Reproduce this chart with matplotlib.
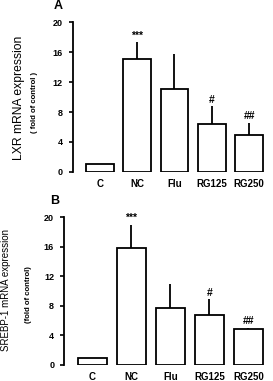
import matplotlib.pyplot as plt

groups = ['C', 'NC', 'Flu', 'RG125', 'RG250']

lxr_mean = [1.0, 15.1, 11.1, 6.4, 4.95]
lxr_err = [0.0, 2.3, 4.65, 2.4, 1.65]
lxr_marks = ['', '***', '', '#', '##']

srebp_mean = [1.0, 15.8, 7.75, 6.8, 4.86]
srebp_err = [0.0, 3.2, 3.15, 2.1, 0.2]
srebp_marks = ['', '***', '', '#', '##']

plt.rcParams['font.family'] = ['Liberation Sans', 'DejaVu Sans']

fig = plt.figure(figsize=(2.73, 3.81), dpi=100)


def panel(rect, means, errs, marks, letter, ylab1, ylab2, lab_pos, size1):
    ax = fig.add_axes(rect)
    x = list(range(len(groups)))
    ax.bar(x, means, width=0.75, color='white', edgecolor='black', linewidth=1.3, zorder=2)
    ax.errorbar(x, means, yerr=[[0] * len(errs), errs], fmt='none', ecolor='black',
                elinewidth=1.3, capsize=0, zorder=1)
    for xi, m, e, s in zip(x, means, errs, marks):
        if s:
            ax.text(xi, m + e + 0.2, s, ha='center', va='bottom', fontsize=7.5,
                    fontweight='bold', clip_on=False)
    ax.set_xlim(-0.73, 4.42)
    ax.set_ylim(0, 20)
    ax.set_yticks([0, 4, 8, 12, 16, 20])
    ax.set_xticks(x)
    ax.set_xticklabels(groups, fontsize=7, fontweight='bold')
    ax.tick_params(axis='x', length=0, pad=5)
    ax.tick_params(axis='y', length=3, width=1.2, labelsize=6.5, pad=4)
    for t in ax.get_yticklabels():
        t.set_fontweight('bold')
    for sp in ['top', 'right', 'bottom']:
        ax.spines[sp].set_visible(False)
    ax.spines['left'].set_linewidth(1.3)
    (lx, ly), (l1x, l1y), (l2x, l2y) = lab_pos
    fig.text(lx, ly, letter, fontsize=9, fontweight='bold', ha='center', va='center')
    fig.text(l1x, l1y, ylab1, fontsize=size1, rotation=90, ha='center', va='center')
    fig.text(l2x, l2y, ylab2, fontsize=5.6, fontweight='bold', rotation=90,
             ha='center', va='center')
    return ax


panel([0.266, 0.549, 0.704, 0.392], lxr_mean, lxr_err, lxr_marks, 'A',
      'LXR mRNA expression', '( fold of control )',
      [(0.212, 0.985), (0.068, 0.744), (0.128, 0.731)], 8.7)
panel([0.234, 0.042, 0.736, 0.388], srebp_mean, srebp_err, srebp_marks, 'B',
      'SREBP-1 mRNA expression', '(fold of control)',
      [(0.201, 0.472), (0.022, 0.239), (0.103, 0.226)], 7.0)

fig.savefig('out.png', dpi=100)
